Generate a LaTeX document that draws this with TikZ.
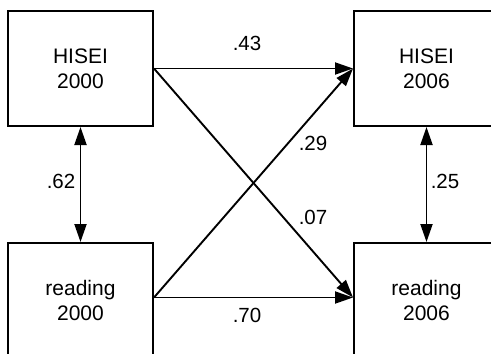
\documentclass[tikz,border=0pt]{standalone}
\usepackage{fontspec}
\setmainfont{Liberation Sans}
\usetikzlibrary{arrows.meta}
\begin{document}
\begin{tikzpicture}[x=1pt,y=-1pt,
  var/.style={draw,line width=2pt,minimum width=145pt,minimum height=115pt,
    align=center,font=\fontsize{21}{25}\selectfont,inner sep=0pt},
  path/.style={line width=1.9pt,-{Triangle[length=18pt,width=12pt]}},
  cov/.style={line width=1.9pt,{Triangle[length=18pt,width=12pt]}-{Triangle[length=18pt,width=12pt]}},
  coef/.style={font=\fontsize{20.5}{24}\selectfont,inner sep=0pt}]
\useasboundingbox (0,0) rectangle (491,354);
\clip (0,0) rectangle (491,354);
% observed variables
\node[var] (h00) at (80.5,68.5) {HISEI\\2000};
\node[var] (h06) at (426.5,68.5) {HISEI\\2006};
\node[var] (r00) at (80.5,300.5) {reading\\2000};
\node[var] (r06) at (426.5,300.5) {reading\\2006};
% stability and cross-lagged paths
\draw[path] (h00.east) -- (h06.west);
\draw[path] ([yshift=3pt]r00.east) -- ([yshift=3pt]r06.west);
\draw[path] (h00.east) -- ([yshift=3pt]r06.west);
\draw[path] ([yshift=3pt]r00.east) -- (h06.west);
% correlations within a wave
\draw[cov] (h00.south) -- (r00.north);
\draw[cov] (h06.south) -- (r06.north);
% coefficients
\node[coef] (c43) at (247,43) {.43};
\node[coef] (c29) at (313,143) {.29};
\node[coef] (c07) at (313,217) {.07};
\node[coef] (c70) at (247,315) {.70};
\node[coef] (c62) at (61,181) {.62};
\node[coef] (c25) at (445,181) {.25};
\end{tikzpicture}
\end{document}
